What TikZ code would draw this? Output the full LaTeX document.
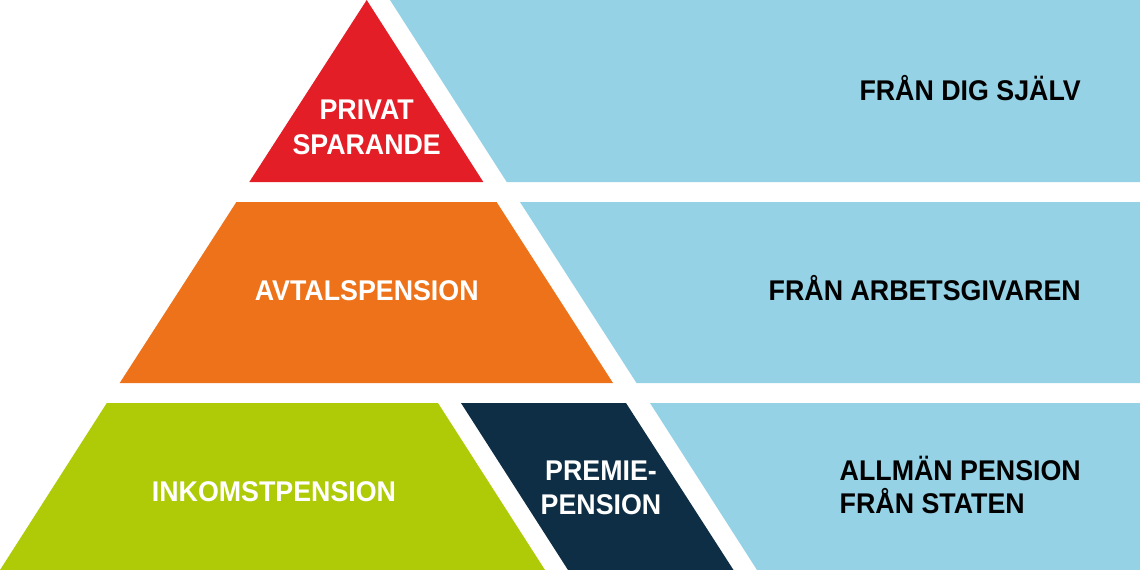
\documentclass[tikz,border=0pt]{standalone}
\usepackage{fontspec}
\setmainfont{Liberation Sans}[FakeStretch=0.94]
\definecolor{cred}{HTML}{E41E26}
\definecolor{corange}{HTML}{EE7219}
\definecolor{cgreen}{HTML}{AFCB08}
\definecolor{cnavy}{HTML}{0E2E45}
\definecolor{cblue}{HTML}{95D2E5}
\tikzset{
  lbl/.style={inner sep=0pt, anchor=base, font=\fontsize{28.5}{34}\selectfont\bfseries},
  wlbl/.style={lbl, text=white},
  blbl/.style={lbl, text=black, anchor=base east},
}
\begin{document}
\begin{tikzpicture}[x=1pt,y=-1pt]
\useasboundingbox (0,0) rectangle (1140,570);
% tiers
\fill[cred] (366.7,0) -- (483.3,182) -- (249.3,182) -- cycle;
\fill[cblue] (390,0) -- (1140,0) -- (1140,182) -- (506.7,182) -- cycle;
\fill[corange] (236.4,202) -- (496.6,202) -- (613,383) -- (119.7,383) -- cycle;
\fill[cblue] (520,202) -- (1140,202) -- (1140,383) -- (636.5,383) -- cycle;
\fill[cgreen] (106.8,403) -- (438,403) -- (545,570) -- (0,570) -- cycle;
\fill[cnavy] (461,403) -- (626,403) -- (733.5,570) -- (568,570) -- cycle;
\fill[cblue] (650,403) -- (1140,403) -- (1140,570) -- (757,570) -- cycle;
% pyramid labels
\node[wlbl] (privat) at (366.7,119) {PRIVAT};
\node[wlbl] (sparande) at (366.7,154) {SPARANDE};
\node[wlbl] (avtal) at (366.7,300) {AVTALSPENSION};
\node[wlbl] (inkomst) at (274,501) {INKOMSTPENSION};
\node[wlbl] (premie) at (601,480) {PREMIE-};
\node[wlbl] (pension) at (601,514) {PENSION};
% right labels
\node[blbl] (sjalv) at (1081,100) {FRÅN DIG SJÄLV};
\node[blbl] (arbets) at (1081,300) {FRÅN ARBETSGIVAREN};
\node[blbl] (allman) at (1081,480) {ALLMÄN PENSION};
\node[lbl, anchor=base west] (staten) at (allman.base west |- 0,513) {FRÅN STATEN};
\end{tikzpicture}
\end{document}
